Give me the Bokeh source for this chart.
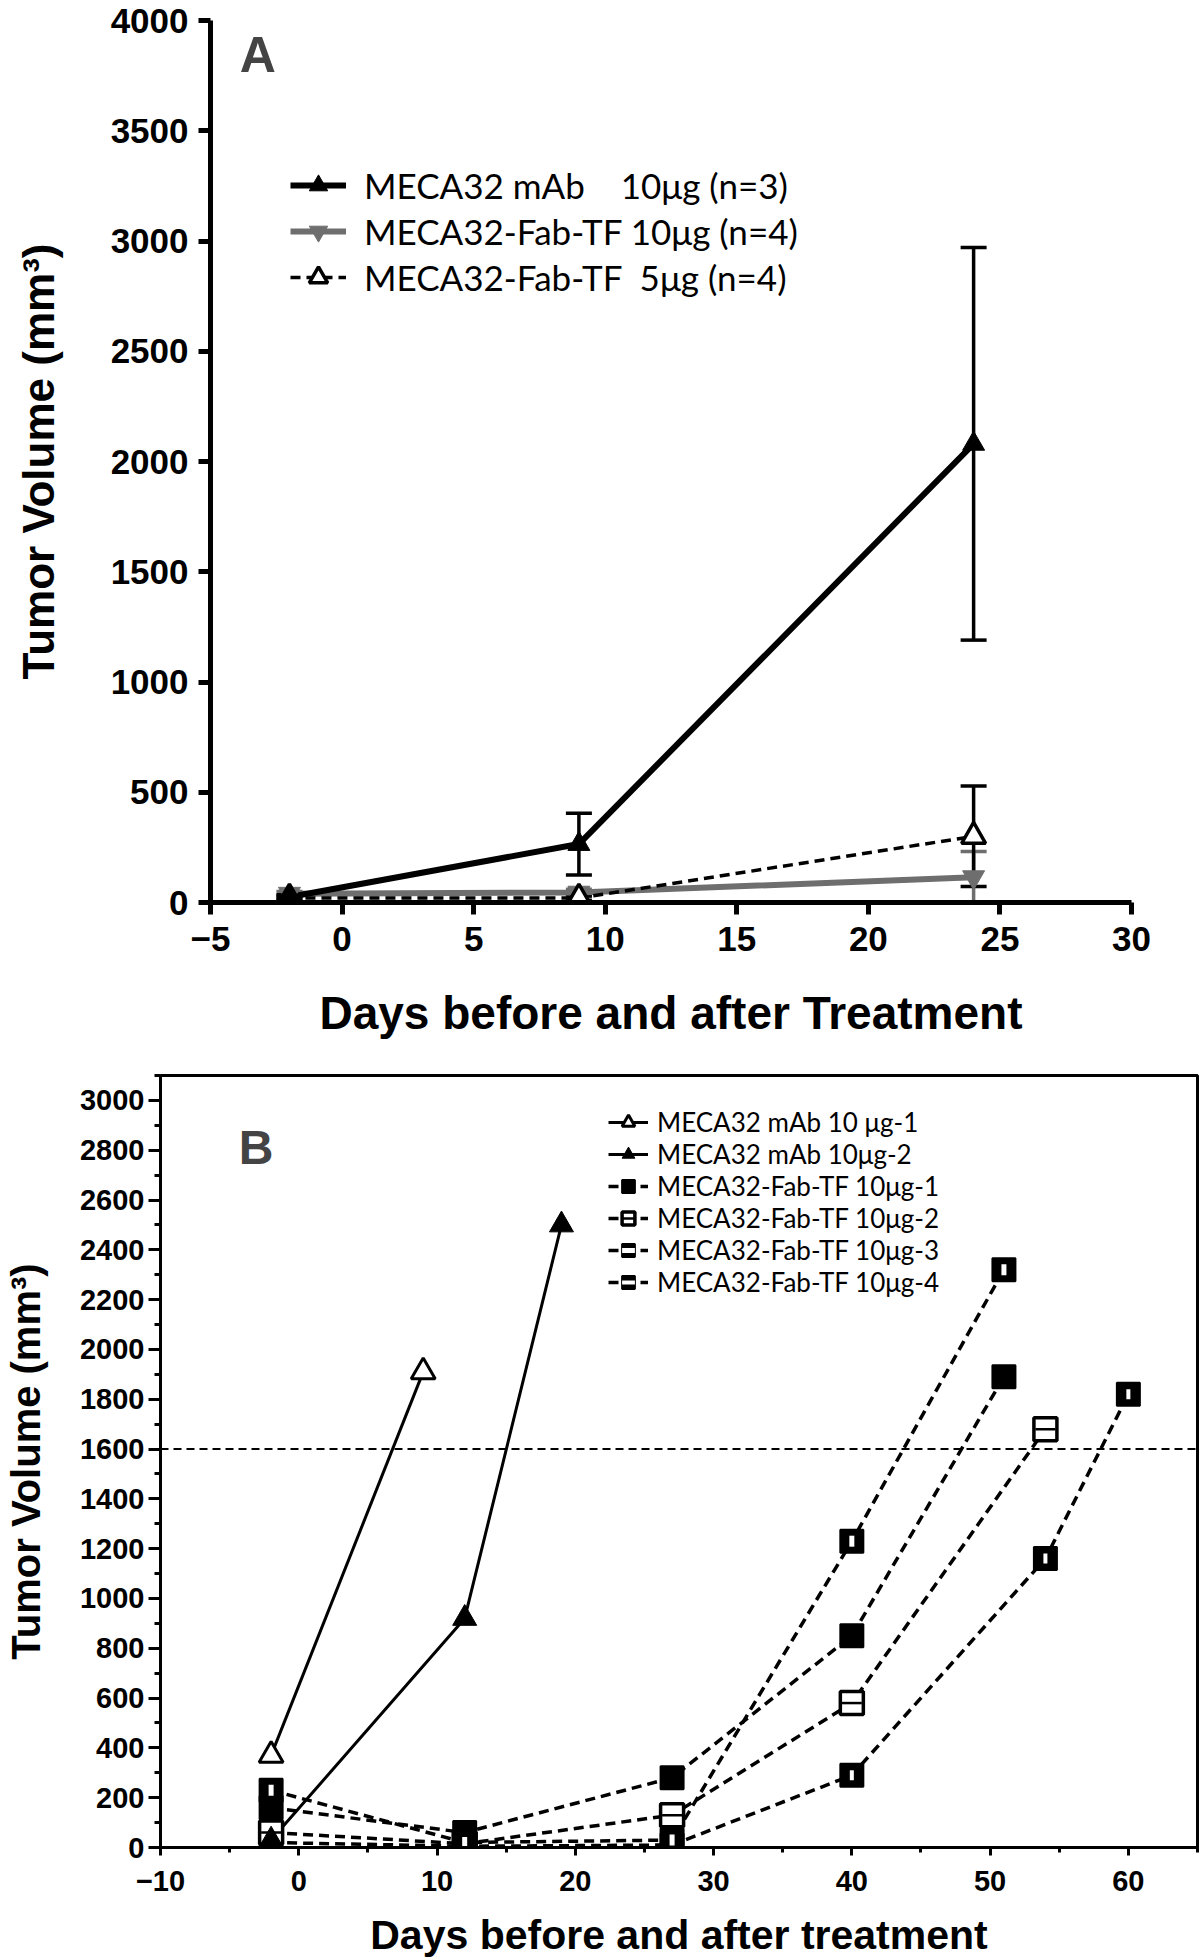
from bokeh.plotting import figure
from bokeh.models import (ColumnDataSource, Whisker, TeeHead, Legend, LegendItem, Span, Label,
                          FixedTicker, SingleIntervalTicker, Range1d)
from bokeh.embed import file_html
from bokeh.resources import INLINE

# ---------------- Panel A data ----------------
days_a = [-2, 9, 24]
mab10_mean = [25, 265, 2080]
mab10_sem = [10, 140, 890]
fab10_mean = [40, 45, 115]
fab10_sem = [10, 15, 116]
fab5_mean = [20, 20, 300]
fab5_sem = [8, 10, 228]
a_xticks = [-5, 0, 5, 10, 15, 20, 25, 30]
a_yticks = [0, 500, 1000, 1500, 2000, 2500, 3000, 3500, 4000]
a_labels = ["MECA32 mAb\u00a0\u00a0\u00a0\u00a010\u03bcg (n=3)",
            "MECA32-Fab-TF 10\u03bcg (n=4)",
            "MECA32-Fab-TF\u00a0\u00a05\u03bcg (n=4)"]

# ---------------- Panel B data ----------------
b_mab1_days = [-2, 9]
b_mab1_vol = [370, 1910]
b_mab2_days = [-2, 12, 19]
b_mab2_vol = [30, 920, 2500]
b_fab1_days = [-2, 12, 27, 40, 51]
b_fab1_vol = [160, 60, 280, 850, 1890]
b_fab2_days = [-2, 12, 27, 40, 54]
b_fab2_vol = [60, 15, 130, 580, 1680]
b_fab3_days = [-2, 12, 27, 40, 51]
b_fab3_vol = [230, 20, 30, 1230, 2320]
b_fab4_days = [-2, 12, 27, 40, 54, 60]
b_fab4_vol = [20, 5, 10, 290, 1160, 1820]
b_threshold = 1600
b_labels = ["MECA32 mAb 10 \u03bcg-1", "MECA32 mAb 10\u03bcg-2",
            "MECA32-Fab-TF 10\u03bcg-1", "MECA32-Fab-TF 10\u03bcg-2",
            "MECA32-Fab-TF 10\u03bcg-3", "MECA32-Fab-TF 10\u03bcg-4"]

BOLD = "Liberation Sans"
LEG = "Lato"
GRAY = "#6e6e6e"

# ================= Panel A =================
pA = figure(width=1200, height=1052, x_range=Range1d(-5, 30), y_range=Range1d(0, 4000),
            output_backend="svg", toolbar_location=None,
            min_border_left=210, min_border_right=69, min_border_top=20, min_border_bottom=150)
pA.outline_line_color = None
pA.grid.grid_line_color = None

pA.xaxis.ticker = FixedTicker(ticks=a_xticks)
pA.yaxis.ticker = FixedTicker(ticks=a_yticks)
for ax in (pA.xaxis[0], pA.yaxis[0]):
    ax.axis_line_width = 5
    ax.axis_line_color = "black"
    ax.major_tick_line_width = 5
    ax.major_tick_out = 12
    ax.major_tick_in = 0
    ax.minor_tick_line_color = None
    ax.major_label_text_font = BOLD
    ax.major_label_text_font_style = "bold"
    ax.major_label_text_font_size = "35px"
    ax.major_label_text_color = "black"
    ax.axis_label_text_font = BOLD
    ax.axis_label_text_font_style = "bold"
    ax.axis_label_text_color = "black"
pA.xaxis.axis_label = "Days before and after Treatment"
pA.xaxis.axis_label_text_font_size = "46px"
pA.xaxis.major_label_standoff = 12
pA.xaxis.axis_label_standoff = 33
pA.yaxis.axis_label = "Tumor Volume (mm\u00b3)"
pA.yaxis.axis_label_text_font_size = "44px"
pA.yaxis.major_label_standoff = 10
pA.yaxis.axis_label_standoff = 45

srcA = ColumnDataSource(dict(
    x=days_a,
    mab=mab10_mean,
    mab_lo=[m - s for m, s in zip(mab10_mean, mab10_sem)],
    mab_hi=[m + s for m, s in zip(mab10_mean, mab10_sem)],
    f10=fab10_mean,
    f10_lo=[m - s for m, s in zip(fab10_mean, fab10_sem)],
    f10_hi=[m + s for m, s in zip(fab10_mean, fab10_sem)],
    f5=fab5_mean,
    f5_lo=[m - s for m, s in zip(fab5_mean, fab5_sem)],
    f5_hi=[m + s for m, s in zip(fab5_mean, fab5_sem)],
))

def add_whisker(p, lo, hi, color):
    w = Whisker(source=srcA, base="x", lower=lo, upper=hi, dimension="height",
                line_color=color, line_width=3.5,
                upper_head=TeeHead(size=26, line_width=3.5, line_color=color),
                lower_head=TeeHead(size=26, line_width=3.5, line_color=color))
    p.add_layout(w)

add_whisker(pA, "f10_lo", "f10_hi", GRAY)
add_whisker(pA, "f5_lo", "f5_hi", "black")
add_whisker(pA, "mab_lo", "mab_hi", "black")

l_f10 = pA.line("x", "f10", source=srcA, line_color=GRAY, line_width=6)
l_f5 = pA.line("x", "f5", source=srcA, line_color="black", line_width=3.5, line_dash="10 6")
l_mab = pA.line("x", "mab", source=srcA, line_color="black", line_width=6)
m_f10 = pA.scatter("x", "f10", source=srcA, marker="inverted_triangle", size=22,
                   fill_color=GRAY, line_color=GRAY)
m_f5 = pA.scatter("x", "f5", source=srcA, marker="triangle", size=24,
                  fill_color="white", line_color="black", line_width=3.5)
m_mab = pA.scatter("x", "mab", source=srcA, marker="triangle", size=22,
                   fill_color="black", line_color="black")

legA = Legend(items=[LegendItem(label=a_labels[0], renderers=[l_mab, m_mab]),
                     LegendItem(label=a_labels[1], renderers=[l_f10, m_f10]),
                     LegendItem(label=a_labels[2], renderers=[l_f5, m_f5])],
              location=(80, 602))
legA.label_text_font = LEG
legA.label_text_font_size = "35px"
legA.label_text_color = "black"
legA.glyph_width = 56
legA.glyph_height = 46
legA.label_height = 46
legA.label_standoff = 18
legA.spacing = 0
legA.padding = 0
legA.margin = 0
legA.border_line_color = None
legA.background_fill_alpha = 0
pA.add_layout(legA)

pA.add_layout(Label(x=-3.2, y=3845, text="A", text_font=BOLD, text_font_style="bold",
                    text_font_size="50px", text_align="center", text_baseline="middle"))

# ================= Panel B =================
pB = figure(width=1200, height=908, x_range=Range1d(-10, 65), y_range=Range1d(0, 3100),
            output_backend="svg", toolbar_location=None,
            min_border_left=160, min_border_right=3, min_border_top=23, min_border_bottom=111)
pB.outline_line_color = "black"
pB.outline_line_width = 3
pB.grid.grid_line_color = None
pB.xaxis.ticker = SingleIntervalTicker(interval=10, num_minor_ticks=2)
pB.yaxis.ticker = SingleIntervalTicker(interval=200, num_minor_ticks=2)
for ax in (pB.xaxis[0], pB.yaxis[0]):
    ax.axis_line_width = 3
    ax.major_tick_line_width = 3
    ax.minor_tick_line_width = 3
    ax.major_tick_in = 0
    ax.minor_tick_in = 0
    ax.major_label_text_font = BOLD
    ax.major_label_text_font_style = "bold"
    ax.major_label_text_font_size = "29px"
    ax.major_label_text_color = "black"
    ax.axis_label_text_font = BOLD
    ax.axis_label_text_font_style = "bold"
    ax.axis_label_text_color = "black"
pB.xaxis.major_tick_out = 8
pB.xaxis.minor_tick_out = 5
pB.yaxis.major_tick_out = 12
pB.yaxis.minor_tick_out = 6
pB.xaxis.axis_label = "Days before and after treatment"
pB.xaxis.axis_label_text_font_size = "41px"
pB.xaxis.major_label_standoff = 15
pB.xaxis.axis_label_standoff = 18
pB.yaxis.axis_label = "Tumor Volume (mm\u00b3)"
pB.yaxis.axis_label_text_font_size = "40px"
pB.yaxis.major_label_standoff = 4
pB.yaxis.axis_label_standoff = 29

pB.add_layout(Span(location=b_threshold, dimension="width", line_color="black",
                   line_width=2, line_dash="8 5"))

DASH = "10 6"
l4 = pB.line(b_fab4_days, b_fab4_vol, line_color="black", line_width=3.5, line_dash=DASH)
l2 = pB.line(b_fab2_days, b_fab2_vol, line_color="black", line_width=3.5, line_dash=DASH)
l1 = pB.line(b_fab1_days, b_fab1_vol, line_color="black", line_width=3.5, line_dash=DASH)
l3 = pB.line(b_fab3_days, b_fab3_vol, line_color="black", line_width=3.5, line_dash=DASH)
lm1 = pB.line(b_mab1_days, b_mab1_vol, line_color="black", line_width=3)
lm2 = pB.line(b_mab2_days, b_mab2_vol, line_color="black", line_width=3)

SQ = 23
s4 = pB.scatter(b_fab4_days, b_fab4_vol, marker="square", size=SQ, fill_color="black",
                line_color="black", line_width=2)
s4b = pB.scatter(b_fab4_days, b_fab4_vol, marker="dash", size=10, angle=1.5708,
                 line_color="white", line_width=4)
s2 = pB.scatter(b_fab2_days, b_fab2_vol, marker="square", size=SQ, fill_color="white",
                line_color="black", line_width=3.5)
s2b = pB.scatter(b_fab2_days, b_fab2_vol, marker="dash", size=SQ - 3, line_color="black",
                 line_width=2.5)
s1 = pB.scatter(b_fab1_days, b_fab1_vol, marker="square", size=SQ, fill_color="black",
                line_color="black", line_width=2)
s3 = pB.scatter(b_fab3_days, b_fab3_vol, marker="square", size=SQ, fill_color="black",
                line_color="black", line_width=2)
s3b = pB.scatter(b_fab3_days, b_fab3_vol, marker="dash", size=11, angle=1.5708,
                 line_color="white", line_width=5)
sm1 = pB.scatter(b_mab1_days, b_mab1_vol, marker="triangle", size=24, fill_color="white",
                 line_color="black", line_width=3)
sm2 = pB.scatter(b_mab2_days, b_mab2_vol, marker="triangle", size=24, fill_color="black",
                 line_color="black")

legB = Legend(items=[LegendItem(label=b_labels[0], renderers=[lm1, sm1]),
                     LegendItem(label=b_labels[1], renderers=[lm2, sm2]),
                     LegendItem(label=b_labels[2], renderers=[l1, s1]),
                     LegendItem(label=b_labels[3], renderers=[l2, s2, s2b]),
                     LegendItem(label=b_labels[4], renderers=[l3, s3, s3b]),
                     LegendItem(label=b_labels[5], renderers=[l4, s4, s4b])],
              location=(448, 549))
legB.label_text_font = LEG
legB.label_text_font_size = "26px"
legB.label_text_color = "black"
legB.glyph_width = 40
legB.glyph_height = 32
legB.label_height = 32
legB.label_standoff = 9
legB.spacing = 0
legB.padding = 0
legB.margin = 0
legB.border_line_color = None
legB.background_fill_alpha = 0
pB.add_layout(legB)

pB.add_layout(Label(x=-3.08, y=2812, text="B", text_font=BOLD, text_font_style="bold",
                    text_font_size="48px", text_align="center", text_baseline="middle"))

open("out.html", "w").write(file_html([pA, pB], INLINE))
